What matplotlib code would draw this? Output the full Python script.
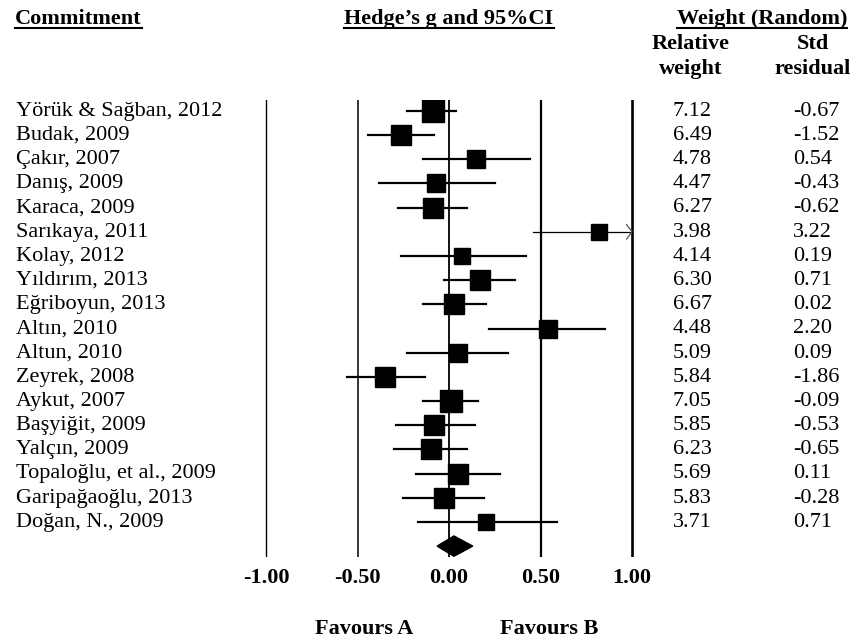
import numpy as np
import matplotlib
matplotlib.use("Agg")
import matplotlib.pyplot as plt
from matplotlib.transforms import blended_transform_factory
from matplotlib.lines import Line2D

plt.rcParams["font.family"] = ["Liberation Serif", "DejaVu Serif"]

# study data
studies = ["Yörük & Sağban, 2012", "Budak, 2009", "Çakır, 2007", "Danış, 2009",
           "Karaca, 2009", "Sarıkaya, 2011", "Kolay, 2012", "Yıldırım, 2013",
           "Eğriboyun, 2013", "Altın, 2010", "Altun, 2010", "Zeyrek, 2008",
           "Aykut, 2007", "Başyiğit, 2009", "Yalçın, 2009", "Topaloğlu, et al., 2009",
           "Garipağaoğlu, 2013", "Doğan, N., 2009"]
g = [-0.09, -0.26, 0.15, -0.07, -0.09, 0.82, 0.07, 0.17, 0.03, 0.54,
     0.05, -0.35, 0.01, -0.08, -0.10, 0.05, -0.03, 0.20]
ci_low = [-0.23, -0.44, -0.14, -0.38, -0.28, 0.46, -0.26, -0.03, -0.14, 0.22,
          -0.23, -0.56, -0.14, -0.29, -0.30, -0.18, -0.25, -0.17]
ci_high = [0.04, -0.08, 0.44, 0.25, 0.10, 1.18, 0.42, 0.36, 0.20, 0.85,
           0.32, -0.13, 0.16, 0.14, 0.10, 0.28, 0.19, 0.59]
rel_weight = ["7.12", "6.49", "4.78", "4.47", "6.27", "3.98", "4.14", "6.30", "6.67",
              "4.48", "5.09", "5.84", "7.05", "5.85", "6.23", "5.69", "5.83", "3.71"]
std_resid = ["-0.67", "-1.52", "0.54", "-0.43", "-0.62", "3.22", "0.19", "0.71", "0.02",
             "2.20", "0.09", "-1.86", "-0.09", "-0.53", "-0.65", "0.11", "-0.28", "0.71"]
pooled = (-0.065, 0.027, 0.13)
ticks = [-1.0, -0.5, 0.0, 0.5, 1.0]

W, H = 860, 639
fig = plt.figure(figsize=(W / 100, H / 100), dpi=100)
ax = fig.add_axes([250 / W, 1 - 557 / H, 400 / W, 457 / H])
ax.set_xlim((250 - 449) / 183, (650 - 449) / 183)
ax.set_ylim(18.45, -0.45)
ax.axis("off")

# reference lines
for t, lw in zip(ticks, [1.0, 1.1, 1.3, 1.6, 1.9]):
    ax.axvline(t, color="black", lw=lw, zorder=1)

fs = 16
n = len(studies)
for i in range(n):
    w = float(rel_weight[i])
    if ci_high[i] > 1.0:
        ax.plot([ci_low[i], 1.0], [i, i], color="black", lw=0.9, zorder=2)
        ax.plot([0.97, 1.0, 0.97], [i - 0.3, i, i + 0.3], color="#555555", lw=0.9, zorder=2)
    else:
        ax.plot([ci_low[i], ci_high[i]], [i, i], color="black", lw=1.6, zorder=2)
    ax.plot(g[i], i, marker="s", color="black", ms=5.83 * np.sqrt(w), zorder=3)

# pooled diamond
lo, mid, hi = pooled
d = 18.0
ax.fill([lo, mid, hi, mid], [d, d - 0.42, d, d + 0.42], color="black", zorder=3)

# text columns
tr = blended_transform_factory(fig.transFigure, ax.transData)
off = 0.2
for i in range(n):
    ax.text(16 / W, i + off, studies[i], transform=tr, fontsize=fs, va="baseline", ha="left")
    ax.text(673 / W, i + off, rel_weight[i], transform=tr, fontsize=fs, va="baseline", ha="left")
    ax.text(793 / W, i + off, std_resid[i], transform=tr, fontsize=fs, va="baseline", ha="left")

# tick labels
for t in ticks:
    ax.text(t, (584 - 111) / 24.2, "%.2f" % t, fontsize=fs, fontweight="bold",
            ha="center", va="baseline", clip_on=False)

def ftext(x, y, s, ha="center", underline=False):
    txt = fig.text(x / W, 1 - y / H, s, fontsize=fs, fontweight="bold", ha=ha, va="baseline")
    if underline:
        fig.canvas.draw()
        bb = txt.get_window_extent()
        yy = 1 - (y + 4) / H
        fig.add_artist(Line2D([bb.x0 / W, bb.x1 / W], [yy, yy], color="black",
                              lw=1.5, transform=fig.transFigure))
    return txt

ftext(15, 24, "Commitment", ha="left", underline=True)
ftext(449, 24, "Hedge\u2019s g and 95%CI", underline=True)
ftext(762, 24, "Weight (Random)", underline=True)
ftext(691, 49, "Relative")
ftext(691, 74, "weight")
ftext(813, 49, "Std")
ftext(813, 74, "residual")
ftext(364, 634, "Favours A")
ftext(549, 634, "Favours B")

fig.savefig("out.png", dpi=100)
